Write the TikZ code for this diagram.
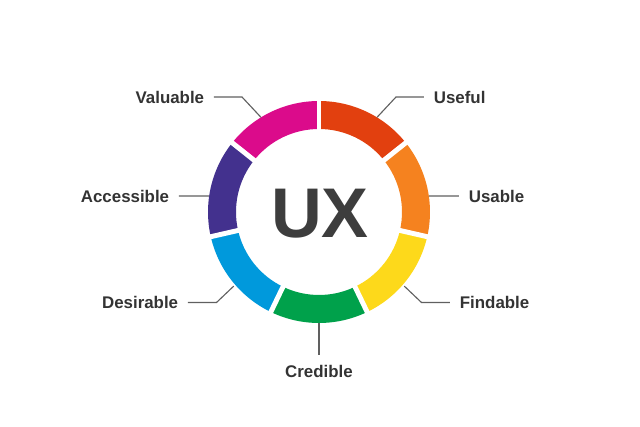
\documentclass[tikz,border=0pt]{standalone}
\usepackage{xcolor}
\usepackage{fontspec}
\setmainfont{Liberation Sans}
\usepackage{tikz}
\usetikzlibrary{positioning,calc}

\definecolor{uxred}{HTML}{E2400F}
\definecolor{uxorange}{HTML}{F5821F}
\definecolor{uxyellow}{HTML}{FDD91B}
\definecolor{uxgreen}{HTML}{00A14B}
\definecolor{uxblue}{HTML}{0099DC}
\definecolor{uxpurple}{HTML}{43318E}
\definecolor{uxmagenta}{HTML}{DB0B8B}
\definecolor{uxtext}{HTML}{333333}
\definecolor{uxline}{HTML}{606060}

\begin{document}
\begin{tikzpicture}[x=0.025cm, y=0.025cm,
  lbl/.style={font=\fontsize{12}{14}\selectfont\bfseries, text=uxtext, inner sep=0.24cm},
  lead/.style={draw=uxline, line width=0.8pt}]
\useasboundingbox (-319,-215) rectangle (321,212);

% ring
\foreach \c [count=\i from 0] in {uxred,uxorange,uxyellow,uxgreen,uxblue,uxpurple,uxmagenta}{
  \pgfmathsetmacro\a{90-360/7*\i}
  \pgfmathsetmacro\b{\a-360/7}
  \fill[\c] (\a:111) arc[start angle=\a, end angle=\b, radius=111] -- (\b:83) arc[start angle=\b, end angle=\a, radius=83] -- cycle;
}
\foreach \i in {0,...,6}
  \draw[white, line width=3.5pt] (0,0) -- ({90-360/7*\i}:120);

\node[font=\fontsize{50}{50}\selectfont\bfseries, text=uxtext!95!white, inner sep=0] (ux) at (1,-2) {UX};

% nodes
\node[lbl, anchor=west] (useful) at (105,115) {Useful};
\node[lbl, anchor=west] (usable) at (140,16) {Usable};
\node[lbl, anchor=west] (findable) at (131,-90.5) {Findable};
\node[lbl, anchor=north] (credible) at (0,-143) {Credible};
\node[lbl, anchor=east] (desirable) at (-131,-90.5) {Desirable};
\node[lbl, anchor=east] (accessible) at (-140,16) {Accessible};
\node[lbl, anchor=east] (valuable) at (-105,115) {Valuable};

\coordinate (p-useful) at (58.5:111);
\coordinate (p-usable) at (8.3:111);
\coordinate (p-findable) at (-41:113);
\coordinate (p-credible) at (-90:111);
\coordinate (p-desirable) at (221:113);
\coordinate (p-accessible) at (171.7:111);
\coordinate (p-valuable) at (121.5:111);

% leaders
\draw[lead] (p-useful) -- (77,115) -- (useful);
\draw[lead] (p-usable) -- (usable);
\draw[lead] (p-findable) -- (102.5,-90.5) -- (findable);
\draw[lead] (p-credible) -- (credible);
\draw[lead] (p-desirable) -- (-102.5,-90.5) -- (desirable);
\draw[lead] (p-accessible) -- (accessible);
\draw[lead] (p-valuable) -- (-77,115) -- (valuable);

\end{tikzpicture}
\end{document}
